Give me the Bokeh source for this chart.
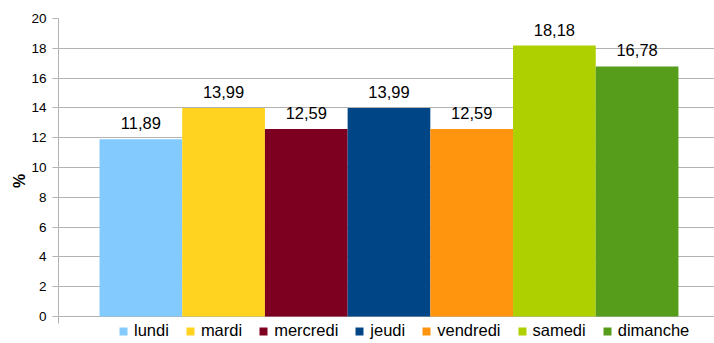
from bokeh.plotting import figure
from bokeh.models import Range1d, SingleIntervalTicker, Legend, LegendItem, ColumnDataSource
from bokeh.embed import file_html
from bokeh.resources import INLINE

days = ["lundi", "mardi", "mercredi", "jeudi", "vendredi", "samedi", "dimanche"]
values = [11.89, 13.99, 12.59, 13.99, 12.59, 18.18, 16.78]
colors = ["#83caff", "#ffd320", "#7e0021", "#004586", "#ff950e", "#aecf00", "#579d1c"]
labels = [f"{v:.2f}".replace(".", ",") for v in values]
y_ticks_interval = 2

src = ColumnDataSource(dict(x=list(range(len(days))), top=values, color=colors, label=labels, day=days))

p = figure(width=714, height=343, output_backend="svg", toolbar_location=None,
           x_range=Range1d(-0.996, 6.936), y_range=Range1d(-1.81, 20),
           x_axis_location=None, min_border_left=58, min_border_right=0,
           min_border_top=18, min_border_bottom=0)
p.outline_line_color = None
p.background_fill_color = "white"
for g in p.xgrid:
    g.visible = False
p.ygrid.grid_line_color = "#b3b3b3"
p.ygrid.grid_line_width = 1

ax = p.yaxis[0]
ax.ticker = SingleIntervalTicker(interval=y_ticks_interval)
ax.bounds = (-0.47, 20)
ax.axis_line_color = "#b3b3b3"
ax.major_tick_line_color = "#b3b3b3"
ax.major_tick_out = 6
ax.major_tick_in = 0
ax.minor_tick_line_color = None
ax.major_label_standoff = 6
ax.major_label_text_font = "Liberation Sans"
ax.major_label_text_font_size = "13.5px"
ax.major_label_text_color = "#000000"
ax.axis_label = "%"
ax.axis_label_text_font = "Liberation Sans"
ax.axis_label_text_font_size = "16px"
ax.axis_label_text_font_style = "bold"
ax.axis_label_text_color = "#000000"
ax.axis_label_standoff = 0

r = p.vbar(x="x", top="top", bottom=0, width=1, fill_color="color", line_color=None, source=src)

p.text(x="x", y="top", text="label", source=src, text_align="center", text_baseline="bottom",
       y_offset=-10, text_font_size="16.5px", text_color="#000000",
       text_font={"value": "Liberation Sans"})

items = [LegendItem(label=d, renderers=[r], index=i) for i, d in enumerate(days)]
legend = Legend(items=items, orientation="horizontal", location=(60, 3),
                glyph_width=10, glyph_height=10, label_standoff=6, spacing=16,
                label_height=14, padding=0, margin=0,
                label_text_font="Liberation Sans", label_text_font_size="16.5px",
                label_text_color="#000000",
                border_line_color=None, background_fill_alpha=0)
p.add_layout(legend, "center")

open("out.html", "w").write(file_html(p, INLINE))
